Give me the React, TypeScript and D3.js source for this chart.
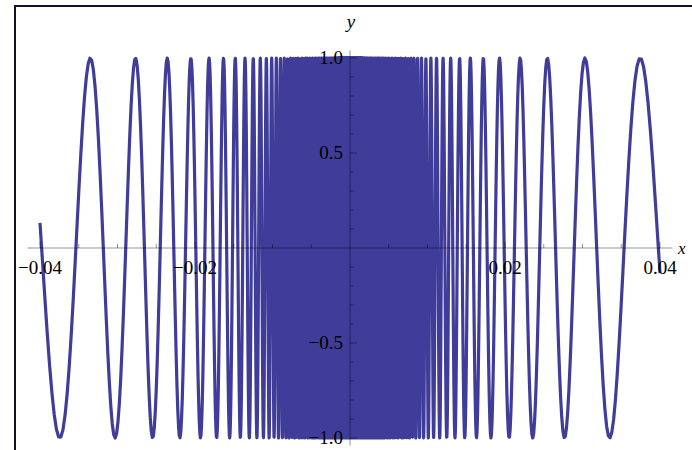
import React from "react";
import * as d3 from "d3";

// Plotted expression and its range
const X_DOMAIN: [number, number] = [-0.04, 0.04];
const Y_DOMAIN: [number, number] = [-1, 1];
const curve = (x: number) => Math.sin(1 / x);

// Axis ticks
const X_MAJOR = [-0.04, -0.02, 0.02, 0.04];
const X_LABELS = ["\u22120.04", "\u22120.02", "0.02", "0.04"];
const X_MINOR = [-0.035, -0.03, -0.025, -0.015, -0.01, -0.005, 0.005, 0.01, 0.015, 0.025, 0.03, 0.035];
const Y_MAJOR = [-1, -0.5, 0.5, 1];
const Y_LABELS = ["\u22121.0", "\u22120.5", "0.5", "1.0"];
const Y_MINOR = [-0.9, -0.8, -0.7, -0.6, -0.4, -0.3, -0.2, -0.1, 0.1, 0.2, 0.3, 0.4, 0.6, 0.7, 0.8, 0.9];

const W = 692;
const H = 450;
const LINE = "rgb(63,61,153)";
const FONT = "'Liberation Serif', 'Times New Roman', serif";

// Sample the curve evenly in phase (1/x) so each oscillation gets enough points.
function samples(): [number, number][] {
  const pts: [number, number][] = [];
  const pMin = 1 / X_DOMAIN[1];
  const pMax = 6000;
  const step = 0.2;
  for (let p = pMin; p <= pMax; p += step) {
    const x = -1 / p;
    pts.push([x, curve(x)]);
  }
  const inner = 400;
  const xe = 1 / pMax;
  for (let i = 0; i <= inner; i++) {
    const x = -xe + (2 * xe * i) / inner;
    if (x === 0) continue;
    pts.push([x, curve(x)]);
  }
  for (let p = pMax; p >= pMin; p -= step) {
    const x = 1 / p;
    pts.push([x, curve(x)]);
  }
  return pts;
}

export default function App() {
  const x = d3.scaleLinear().domain(X_DOMAIN).range([40, 660]);
  const y = d3.scaleLinear().domain(Y_DOMAIN).range([438, 58]);
  const line = d3
    .line<[number, number]>()
    .x((d) => x(d[0]))
    .y((d) => y(d[1]));
  const path = line(samples()) || "";

  const axisStroke = "rgba(0,0,0,0.42)";
  const x0 = x(0);
  const y0 = y(0);

  return (
    <svg
      width={W}
      height={H}
      style={{ position: "absolute", left: 0, top: 0, background: "#fff" }}
      fontFamily={FONT}
    >
      <rect x={0} y={0} width={W} height={H} fill="#fff" />
      <path d={path} fill="none" stroke={LINE} strokeWidth={3.2} strokeLinejoin="round" />

      {/* x axis */}
      <line x1={x(-0.0416)} x2={x(0.0416)} y1={y0} y2={y0} stroke={axisStroke} strokeWidth={1} />
      {X_MAJOR.map((v) => (
        <line key={"xM" + v} x1={x(v)} x2={x(v)} y1={y0} y2={y0 - 6} stroke={axisStroke} />
      ))}
      {X_MINOR.map((v) => (
        <line key={"xm" + v} x1={x(v)} x2={x(v)} y1={y0} y2={y0 - 4} stroke={axisStroke} />
      ))}
      {X_MAJOR.map((v, i) => (
        <text key={"xl" + v} x={x(v)} y={274} fontSize={19} textAnchor="middle" fill="#000">
          {X_LABELS[i]}
        </text>
      ))}

      {/* y axis */}
      <line x1={x0} x2={x0} y1={y(1.04)} y2={y(-1.04)} stroke={axisStroke} strokeWidth={1} />
      {Y_MAJOR.map((v) => (
        <line key={"yM" + v} x1={x0} x2={x0 + 7} y1={y(v)} y2={y(v)} stroke={axisStroke} />
      ))}
      {Y_MINOR.map((v) => (
        <line key={"ym" + v} x1={x0} x2={x0 + 4} y1={y(v)} y2={y(v)} stroke={axisStroke} />
      ))}
      {Y_MAJOR.map((v, i) => (
        <text
          key={"yl" + v}
          x={x0 - 7}
          y={y(v) + 6}
          fontSize={19}
          textAnchor="end"
          fill="#000"
        >
          {Y_LABELS[i]}
        </text>
      ))}

      {/* axis names */}
      <text x={x0 + 1} y={28} fontSize={19} fontStyle="italic" textAnchor="middle" fill="#000">
        y
      </text>
      <text x={678} y={254} fontSize={17} fontStyle="italic" fill="#000">
        x
      </text>

      {/* outer frame */}
      <path d={`M15,${H} V6 H${W}`} fill="none" stroke="#11112a" strokeWidth={2} />
    </svg>
  );
}
